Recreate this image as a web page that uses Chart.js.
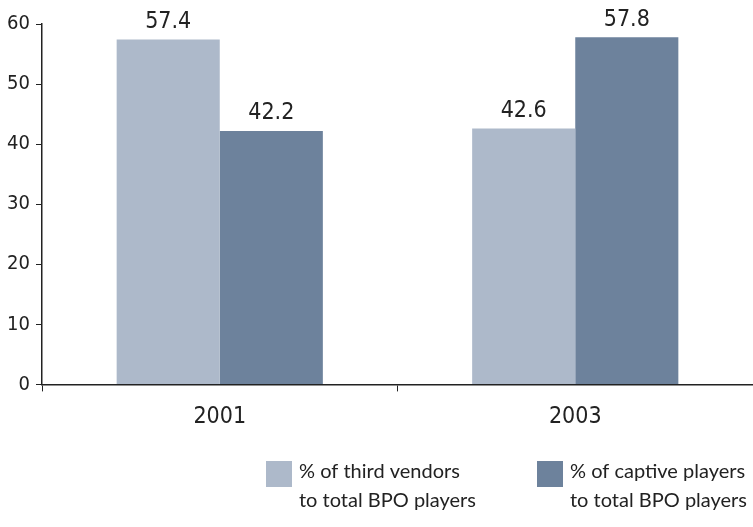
<!DOCTYPE html>
<html>
<head>
<meta charset="utf-8">
<script src="https://cdn.jsdelivr.net/npm/chart.js@4.4.0/dist/chart.umd.min.js"></script>
<style>
  html, body { margin: 0; padding: 0; background: #fff; }
  #wrap { width: 753px; height: 527px; position: relative; }
</style>
</head>
<body>
<div id="wrap"><canvas id="bpo-chart"></canvas></div>
<script>
const years = ['2001', '2003'];
const thirdVendors = [57.4, 42.6];
const captivePlayers = [42.2, 57.8];
const seriesNames = [
    ['% of third vendors', 'to total BPO players'],
    ['% of captive players', 'to total BPO players']
];
const yTicks = [0, 10, 20, 30, 40, 50, 60];

const lightBar = '#adb9ca';
const darkBar = '#6d829c';
const inkColor = '#222222';
const narrowFont = '"DejaVu Sans Condensed", "Liberation Sans Narrow", sans-serif';
const legendFont = 'Lato, "Open Sans", sans-serif';

// value labels over each bar
const valueLabels = {
    id: 'valueLabels',
    afterDatasetsDraw(chart) {
        const ctx = chart.ctx;
        ctx.save();
        ctx.fillStyle = inkColor;
        ctx.font = '23px ' + narrowFont;
        ctx.textAlign = 'center';
        ctx.textBaseline = 'bottom';
        chart.data.datasets.forEach((ds, i) => {
            chart.getDatasetMeta(i).data.forEach((bar, j) => {
                ctx.fillText(ds.data[j].toFixed(1), bar.x, bar.y - 6);
            });
        });
        ctx.restore();
    }
};

// two-line legend in the bottom right
const twoLineLegend = {
    id: 'twoLineLegend',
    afterDraw(chart) {
        const ctx = chart.ctx;
        const starts = [266, 537];
        ctx.save();
        ctx.font = '20px ' + legendFont;
        ctx.textBaseline = 'middle';
        chart.data.datasets.forEach((ds, i) => {
            const x = starts[i];
            ctx.fillStyle = ds.backgroundColor;
            ctx.fillRect(x, 461, 26, 26);
            ctx.fillStyle = inkColor;
            ctx.fillText(seriesNames[i][0], x + 33, 472);
            ctx.fillText(seriesNames[i][1], x + 33, 501);
        });
        ctx.restore();
    }
};

new Chart(document.getElementById('bpo-chart'), {
    type: 'bar',
    data: {
        labels: years,
        datasets: [
            { label: seriesNames[0].join(' '), data: thirdVendors, backgroundColor: lightBar },
            { label: seriesNames[1].join(' '), data: captivePlayers, backgroundColor: darkBar }
        ]
    },
    options: {
        responsive: true,
        maintainAspectRatio: false,
        animation: false,
        layout: { padding: { top: 24, right: 0, bottom: 84, left: 0 } },
        plugins: {
            legend: { display: false },
            tooltip: { enabled: false }
        },
        datasets: {
            bar: { categoryPercentage: 0.58, barPercentage: 1.0 }
        },
        scales: {
            x: {
                grid: { drawOnChartArea: false, drawTicks: true, tickLength: 7, color: inkColor },
                border: { display: true, color: inkColor, width: 1.5 },
                ticks: { color: inkColor, font: { family: narrowFont, size: 23 }, padding: 12 }
            },
            y: {
                min: 0,
                max: 60,
                afterBuildTicks(scale) {
                    scale.ticks = yTicks.map(v => ({ value: v }));
                },
                afterFit(scale) {
                    scale.width = 42;
                },
                grid: { drawOnChartArea: false, drawTicks: true, tickLength: 6, color: inkColor },
                border: { display: true, color: inkColor, width: 1.5 },
                ticks: { color: inkColor, font: { family: narrowFont, size: 20 }, padding: 6 }
            }
        }
    },
    plugins: [valueLabels, twoLineLegend]
});
</script>
</body>
</html>
